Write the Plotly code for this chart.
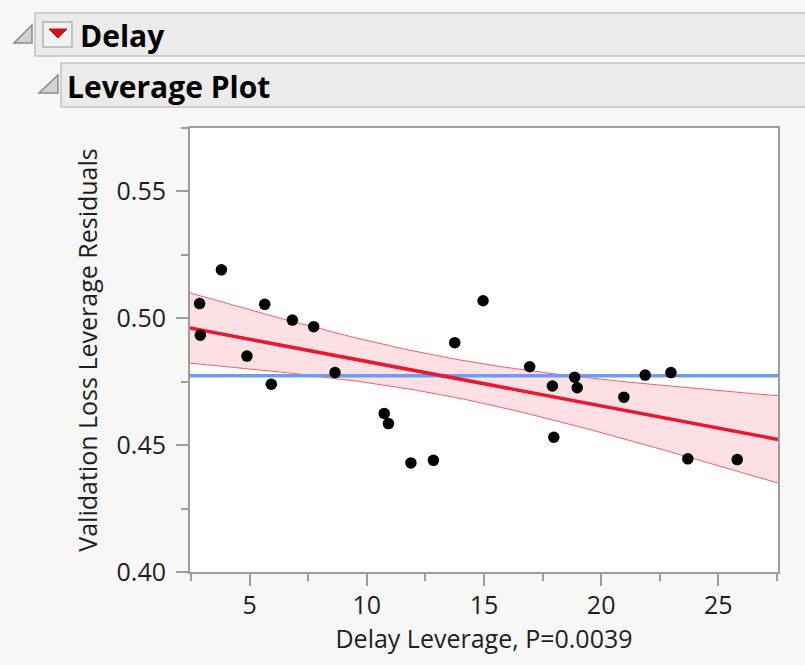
import numpy as np
import plotly.graph_objects as go

# Leverage plot data: Delay leverage vs. validation loss leverage residuals
delay_leverage = [3.79, 2.86, 2.89, 5.64, 4.88, 6.82, 7.73, 5.92, 8.64, 10.74,
                  10.92, 11.88, 12.84, 13.75, 14.96, 16.95, 17.92, 18.87, 18.98,
                  17.98, 20.97, 21.88, 22.98, 23.70, 25.81]
loss_residuals = [0.5191, 0.5058, 0.4933, 0.5055, 0.4851, 0.4993, 0.4967, 0.4740,
                  0.4786, 0.4625, 0.4585, 0.4430, 0.4440, 0.4904, 0.5069, 0.4809,
                  0.4733, 0.4768, 0.4726, 0.4531, 0.4689, 0.4776, 0.4786, 0.4446,
                  0.4443]

x_range = [2.45, 27.55]
y_range = [0.40, 0.575]
x_title = "Delay Leverage, P=0.0039"
y_title = "Validation Loss Leverage Residuals"
outline_title = "Delay"
report_title = "Leverage Plot"

T_CRIT = 2.069  # two-sided 95% t quantile, 23 df

# Least squares fit with 95% confidence curves
x = np.array(delay_leverage)
y = np.array(loss_residuals)
n = len(x)
slope, intercept = np.polyfit(x, y, 1)
resid = y - (slope * x + intercept)
s = np.sqrt(np.sum(resid ** 2) / (n - 2))
sxx = np.sum((x - x.mean()) ** 2)
xs = np.linspace(x_range[0], x_range[1], 200)
fit = slope * xs + intercept
half = T_CRIT * s * np.sqrt(1.0 / n + (xs - x.mean()) ** 2 / sxx)
y_mean = y.mean()

# Figure geometry in pixels (used for the report header decorations)
W, H = 805, 665
ML, MR, MT, MB = 190, 27, 128, 93
PW, PH = W - ML - MR, H - MT - MB


def px(xp):
    return (xp - ML) / PW


def py(yp):
    return (H - MB - yp) / PH


fig = go.Figure()

band_edge = dict(color="rgba(238,70,90,0.85)", width=1)
fig.add_trace(go.Scatter(x=xs, y=fit - half, mode="lines", line=band_edge,
                         hoverinfo="skip"))
fig.add_trace(go.Scatter(x=xs, y=fit + half, mode="lines", line=band_edge,
                         fill="tonexty", fillcolor="rgba(245,60,85,0.16)",
                         hoverinfo="skip"))
fig.add_trace(go.Scatter(x=x_range, y=[y_mean, y_mean], mode="lines",
                         line=dict(color="#6c9cf4", width=3.5)))
fig.add_trace(go.Scatter(x=xs, y=fit, mode="lines",
                         line=dict(color="#e8192f", width=3.5)))
fig.add_trace(go.Scatter(x=delay_leverage, y=loss_residuals, mode="markers",
                         marker=dict(color="black", size=11.5)))

axis_gray = "#9d9d9d"
tick_font = dict(family="Open Sans", size=25, color="#1e1e1e")

fig.update_xaxes(
    range=x_range, tickmode="linear", tick0=0, dtick=5,
    ticks="outside", ticklen=12, tickwidth=1.5, tickcolor=axis_gray,
    minor=dict(tick0=0, dtick=2.5, ticks="outside", ticklen=7,
               tickwidth=1.5, tickcolor=axis_gray),
    showline=True, linecolor=axis_gray, linewidth=2, mirror=True,
    showgrid=False, zeroline=False, tickfont=tick_font, ticklabelstandoff=-2,
    title=dict(text=x_title, font=tick_font, standoff=2),
)
fig.update_yaxes(
    range=y_range, tickmode="linear", tick0=0, dtick=0.05, tickformat=".2f",
    ticks="outside", ticklen=12, tickwidth=1.5, tickcolor=axis_gray,
    minor=dict(tick0=0, dtick=0.025, ticks="outside", ticklen=7,
               tickwidth=1.5, tickcolor=axis_gray),
    showline=True, linecolor=axis_gray, linewidth=2, mirror=True,
    showgrid=False, zeroline=False, tickfont=tick_font, ticklabelstandoff=5,
    title=dict(text=y_title, font=tick_font, standoff=12),
)


def open_box(x0, y0, y1, x_far=900):
    # outline bar running off the right edge: top, left and bottom sides only
    return (f"M {px(x_far):.5f},{py(y0):.5f} L {px(x0):.5f},{py(y0):.5f} "
            f"L {px(x0):.5f},{py(y1):.5f} L {px(x_far):.5f},{py(y1):.5f}")


def tri_path(pts):
    return "M " + " L ".join(f"{px(a):.5f},{py(b):.5f}" for a, b in pts) + " Z"


# Report outline header bars, disclosure icons and the red popup button
box_line = dict(color="#c3c3c3", width=1.5)
shapes = [
    dict(type="path", xref="paper", yref="paper", path=open_box(35, 13, 56),
         fillcolor="#ebebeb", line=box_line),
    dict(type="path", xref="paper", yref="paper", path=open_box(61, 63, 107),
         fillcolor="#ebebeb", line=box_line),
    dict(type="rect", xref="paper", yref="paper", x0=px(43), x1=px(72),
         y0=py(47), y1=py(22), fillcolor="#f3f3f3",
         line=dict(color="#b4b4b4", width=1.5)),
    dict(type="path", xref="paper", yref="paper",
         path=tri_path([(49, 29), (67, 29), (58, 38)]),
         fillcolor="#d4101f", line=dict(color="#d4101f", width=1)),
]
for pts in ([(14, 43), (32, 43), (32, 25)], [(39, 93), (58, 93), (58, 75)]):
    shapes.append(dict(type="path", xref="paper", yref="paper",
                       path=tri_path(pts), fillcolor="#d2d2d2",
                       line=dict(color="#8a8a8a", width=1.5)))

header_font = dict(family="Open Sans", size=30, color="black", weight="bold")
annotations = [
    dict(text=outline_title, xref="paper", yref="paper", x=px(78), y=py(35),
         xanchor="left", yanchor="middle", showarrow=False, font=header_font),
    dict(text=report_title, xref="paper", yref="paper", x=px(65), y=py(86),
         xanchor="left", yanchor="middle", showarrow=False, font=header_font),
]

fig.update_layout(
    width=W, height=H,
    margin=dict(l=ML, r=MR, t=MT, b=MB),
    paper_bgcolor="#f7f7f7", plot_bgcolor="white",
    showlegend=False, shapes=shapes, annotations=annotations,
)

fig.write_html("out.html")
